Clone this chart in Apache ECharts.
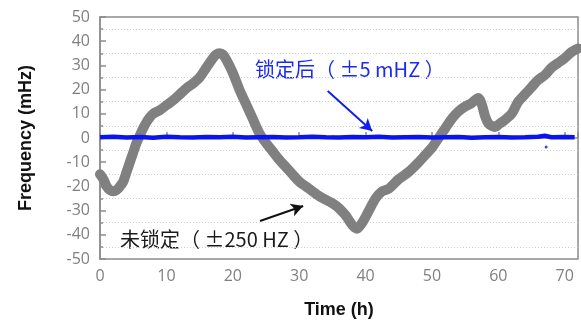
<!DOCTYPE html>
<html>
<head>
<meta charset="utf-8">
<script src="https://cdn.jsdelivr.net/npm/echarts@6/dist/echarts.min.js"></script>
<style>
  html, body { margin: 0; padding: 0; background: #fff; }
  #chart { width: 581px; height: 327px; }
</style>
</head>
<body>
<div id="chart"></div>
<script>
// unlocked drift, [time h, freq mHz]
const unlocked = [
  [0, -15], [0.5, -17], [1, -20], [1.5, -21.5], [2, -22], [2.5, -21.5], [3, -20], [3.5, -18],
  [4, -14], [4.5, -10], [5, -6], [5.5, -2], [6, 1], [6.5, 4], [7, 6.5], [7.5, 8.5], [8, 10],
  [9, 11.5], [10, 13.5], [11, 15.5], [12, 18], [13, 20.5], [14, 22.5], [15, 25], [16, 29],
  [17, 33], [17.5, 34.5], [18, 35], [18.5, 34.5], [19, 32.5], [20, 27], [21, 20], [22, 14],
  [23, 8], [24, 2], [25, -2], [26, -5.5], [27, -9], [28, -12], [29, -15], [30, -18], [31, -20],
  [32, -22], [33, -24], [34, -25.5], [35, -27], [36, -29], [37, -32], [38, -36], [38.7, -37.5],
  [39.5, -35], [40.5, -30], [41.5, -25], [42.5, -22], [43.5, -21], [45, -17], [46.5, -14],
  [48, -10], [49, -7], [50, -4], [51, 0], [52, 4], [53, 8], [54, 11], [55, 13], [56, 14.5],
  [57, 16.5], [57.5, 14], [58, 9], [58.5, 6], [59, 5], [59.5, 4.5], [60, 5.5], [61, 7.5],
  [62, 10], [63, 15], [64, 18], [65, 21], [66, 24], [67, 26], [68, 29], [69, 31], [70, 33],
  [71, 35.5], [72, 37]
]

// locked, stays around zero
const locked = [
  [0, 0.3], [2, 0.5], [4, 0.2], [6, 0.4], [8, 0.1], [10, 0.5], [12, 0.3], [14, 0.2], [16, 0.4],
  [18, 0.3], [20, 0.5], [22, 0.2], [24, 0.3], [26, 0.4], [28, 0.2], [30, 0.3], [32, 0.5],
  [34, 0.3], [36, 0.2], [38, 0.4], [40, 0.3], [42, 0.5], [44, 0.2], [46, 0.3], [48, 0.4],
  [50, 0.2], [52, 0.3], [54, 0.4], [56, 0.1], [58, 0.3], [60, 0.4], [62, 0.2], [64, 0.3],
  [66, 0.5], [67, 0.9], [68, 0.3], [70, 0.4], [71.5, 0.3]
]
const lockedOutliers = [[67.2, -3.7]]

const lockedText = '锁定后（ ±5 mHZ ）'
const unlockedText = '未锁定（ ±250 HZ ）'
const lockedArrow = [[34.3, 19.4], [41, 2.9]]
const unlockedArrow = [[24.1, -34.3], [30.6, -28.1]]

const axisGray = '#8c8c8c'
const labelGray = '#808080'

const chart = echarts.init(document.getElementById('chart'))

const option = {
  animation: false,
  grid: {
    left: 100,
    right: 2,
    top: 17,
    bottom: 68,
    show: true,
    borderColor: axisGray,
    borderWidth: 1.5
  },
  xAxis: {
    type: 'value',
    min: 0,
    max: 72,
    interval: 10,
    name: 'Time (h)',
    nameLocation: 'middle',
    nameGap: 42,
    nameTextStyle: { fontFamily: 'Liberation Sans', fontWeight: 'bold', fontSize: 18, color: '#111' },
    axisLine: { lineStyle: { color: axisGray, width: 1.5 } },
    axisTick: { inside: true, length: 6, lineStyle: { color: axisGray, width: 1.5 } },
    minorTick: { show: true, splitNumber: 2, length: 3, lineStyle: { color: axisGray, width: 1.5 } },
    axisLabel: {
      margin: 9,
      color: labelGray,
      fontFamily: 'Open Sans',
      fontSize: 16,
      formatter: v => (v > 70 ? '' : v)
    },
    splitLine: { show: false }
  },
  yAxis: {
    type: 'value',
    min: -50,
    max: 50,
    interval: 10,
    name: 'Frequency (mHz)',
    nameLocation: 'middle',
    nameGap: 65,
    nameTextStyle: { fontFamily: 'Liberation Sans', fontWeight: 'bold', fontSize: 18, color: '#111' },
    axisLine: { show: true, lineStyle: { color: axisGray, width: 1.5 } },
    axisTick: { show: true, inside: true, length: 6, lineStyle: { color: axisGray, width: 1.5 } },
    minorTick: { show: true, splitNumber: 2, length: 3, lineStyle: { color: axisGray, width: 1.5 } },
    axisLabel: { margin: 10, color: labelGray, fontFamily: 'Open Sans', fontSize: 16 },
    splitLine: { show: false },
    minorSplitLine: { show: true, lineStyle: { color: '#cfcfcf', type: [1, 2], width: 1 } }
  },
  series: [
    {
      name: 'unlocked',
      type: 'line',
      data: unlocked,
      showSymbol: false,
      smooth: 0.3,
      lineStyle: { color: '#808080', width: 10, cap: 'round', join: 'round' },
      markLine: {
        silent: true,
        symbol: ['none', 'arrow'],
        symbolSize: [10, 12],
        label: { show: false },
        lineStyle: { color: '#111', width: 2, type: 'solid' },
        data: [[{ coord: unlockedArrow[0] }, { coord: unlockedArrow[1] }]]
      },
      z: 2
    },
    {
      name: 'locked',
      type: 'line',
      data: locked,
      showSymbol: false,
      lineStyle: { color: '#0a14f0', width: 4.5 },
      markLine: {
        silent: true,
        symbol: ['none', 'arrow'],
        symbolSize: [10, 12],
        label: { show: false },
        lineStyle: { color: '#1020e8', width: 2, type: 'solid' },
        data: [[{ coord: lockedArrow[0] }, { coord: lockedArrow[1] }]]
      },
      z: 3
    },
    {
      name: 'lockedOutliers',
      type: 'scatter',
      data: lockedOutliers,
      symbolSize: 3,
      itemStyle: { color: '#0a14f0' },
      z: 3
    }
  ],
  graphic: [
    {
      type: 'text',
      left: 255,
      top: 59,
      style: { text: lockedText, fill: '#1a2af0', font: '20px "Noto Sans CJK SC"' }
    },
    {
      type: 'text',
      left: 120,
      top: 229,
      style: { text: unlockedText, fill: '#1a1a1a', font: '20px "Noto Sans CJK SC"' }
    }
  ]
}

chart.setOption(option)
</script>
</body>
</html>
